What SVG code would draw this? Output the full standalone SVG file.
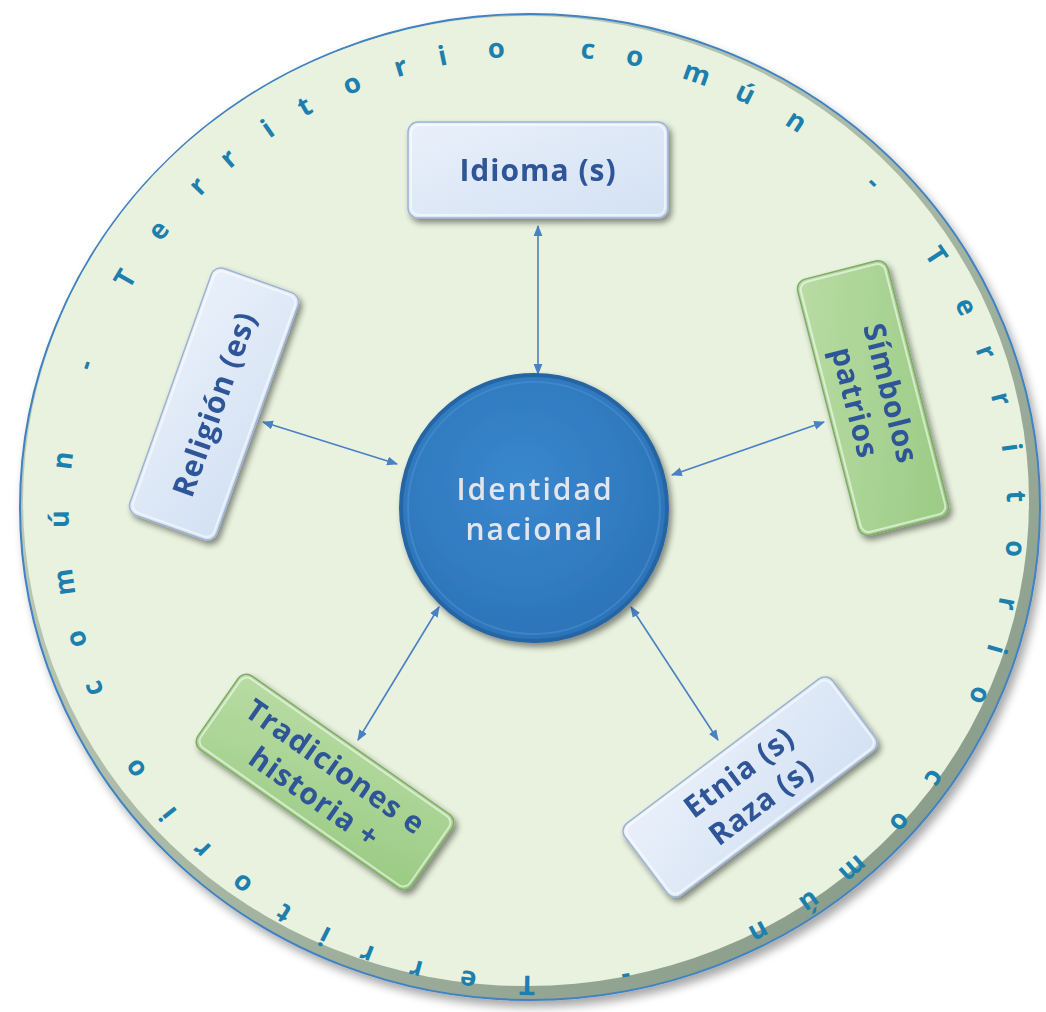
<svg xmlns="http://www.w3.org/2000/svg" width="1046" height="1012" viewBox="0 0 1046 1012">
  <style>
    .ring { font-family: "Open Sans", "Liberation Sans", sans-serif; font-weight: 700; font-size: 27px; fill: #1c7fae; text-anchor: middle; }
    .lbl { font-family: "Open Sans", "Liberation Sans", sans-serif; font-weight: 700; font-size: 30px; fill: #2f5597; text-anchor: middle; letter-spacing: 1px; }
    .core { font-family: "Open Sans", "Liberation Sans", sans-serif; font-weight: 600; font-size: 30px; fill: #e2e6ec; text-anchor: middle; letter-spacing: 2px; }
    .conn { stroke: #4a80c4; stroke-width: 1.6; fill: none; marker-start: url(#arr); marker-end: url(#arr); }
    .blue { fill: url(#gBlue); stroke: #9db3d3; stroke-width: 1.5; }
    .green { fill: url(#gGreen); stroke: #7eac66; stroke-width: 1.5; }
    .hl { fill: none; stroke: #ffffff; stroke-opacity: 0.55; stroke-width: 2; }
  </style>
  <defs>
    <linearGradient id="gBlue" x1="0" y1="0" x2="1" y2="1">
      <stop offset="0" stop-color="#e9f0fa"/>
      <stop offset="1" stop-color="#d3e1f3"/>
    </linearGradient>
    <linearGradient id="gGreen" x1="0" y1="0" x2="1" y2="1">
      <stop offset="0" stop-color="#b9dca4"/>
      <stop offset="1" stop-color="#9acb84"/>
    </linearGradient>
    <radialGradient id="gCore" cx="0.45" cy="0.4" r="0.6">
      <stop offset="0" stop-color="#3a87cd"/>
      <stop offset="1" stop-color="#2c74ba"/>
    </radialGradient>
    <linearGradient id="gRim" x1="0" y1="0" x2="1" y2="1">
      <stop offset="0" stop-color="#c9d9c8"/>
      <stop offset="0.5" stop-color="#a9b9a6"/>
      <stop offset="1" stop-color="#7f9381"/>
    </linearGradient>
    <filter id="sh" x="-20%" y="-20%" width="140%" height="140%">
      <feGaussianBlur in="SourceAlpha" stdDeviation="3"/>
      <feOffset dx="3" dy="4" result="o"/>
      <feComponentTransfer><feFuncA type="linear" slope="0.45"/></feComponentTransfer>
      <feMerge><feMergeNode/><feMergeNode in="SourceGraphic"/></feMerge>
    </filter>
    <filter id="shBig" x="-10%" y="-10%" width="120%" height="120%">
      <feGaussianBlur in="SourceAlpha" stdDeviation="5"/>
      <feOffset dx="4" dy="6"/>
      <feComponentTransfer><feFuncA type="linear" slope="0.35"/></feComponentTransfer>
      <feMerge><feMergeNode/><feMergeNode in="SourceGraphic"/></feMerge>
    </filter>
    <marker id="arr" viewBox="0 0 10 10" refX="9" refY="5" markerWidth="11" markerHeight="11" markerUnits="userSpaceOnUse" orient="auto-start-reverse">
      <path d="M0,1 L10,5 L0,9 Z" fill="#4a80c4"/>
    </marker>
  </defs>

  <rect width="1046" height="1012" fill="#ffffff"/>

  <!-- outer disc: bevelled rim and pale green face -->
  <g id="territorio" filter="url(#shBig)">
    <ellipse cx="530" cy="507" rx="510" ry="493" fill="url(#gRim)" stroke="#3f82c2" stroke-width="2"/>
    <ellipse cx="526" cy="501" rx="503" ry="485" fill="#e9f2de"/>
  </g>

  <!-- lettering around the disc (slightly widened ring) -->
  <g id="ring-text" class="ring" transform="translate(538 516) scale(1.02 1) translate(-538 -516)">
    <text x="538" y="56" transform="rotate(181.3 538 516)">T</text>
    <text x="538" y="56" transform="rotate(188.4 538 516)">e</text>
    <text x="538" y="56" transform="rotate(194.8 538 516)">r</text>
    <text x="538" y="56" transform="rotate(201.0 538 516)">r</text>
    <text x="538" y="56" transform="rotate(206.5 538 516)">i</text>
    <text x="538" y="56" transform="rotate(212.1 538 516)">t</text>
    <text x="538" y="56" transform="rotate(218.3 538 516)">o</text>
    <text x="538" y="56" transform="rotate(224.7 538 516)">r</text>
    <text x="538" y="56" transform="rotate(230.6 538 516)">i</text>
    <text x="538" y="56" transform="rotate(237.4 538 516)">o</text>
    <text x="538" y="56" transform="rotate(248.4 538 516)">c</text>
    <text x="538" y="56" transform="rotate(254.8 538 516)">o</text>
    <text x="538" y="56" transform="rotate(261.9 538 516)">m</text>
    <text x="538" y="56" transform="rotate(269.6 538 516)">ú</text>
    <text x="538" y="56" transform="rotate(276.8 538 516)">n</text>
    <text x="538" y="56" transform="rotate(288.8 538 516)">-</text>

    <text x="538" y="56" transform="rotate(300.4 538 516)">T</text>
    <text x="538" y="56" transform="rotate(307.5 538 516)">e</text>
    <text x="538" y="56" transform="rotate(314.7 538 516)">r</text>
    <text x="538" y="56" transform="rotate(319.7 538 516)">r</text>
    <text x="538" y="56" transform="rotate(325.6 538 516)">i</text>
    <text x="538" y="56" transform="rotate(330.8 538 516)">t</text>
    <text x="538" y="56" transform="rotate(337.1 538 516)">o</text>
    <text x="538" y="56" transform="rotate(343.3 538 516)">r</text>
    <text x="538" y="56" transform="rotate(348.5 538 516)">i</text>
    <text x="538" y="56" transform="rotate(355.0 538 516)">o</text>
    <text x="538" y="56" transform="rotate(6.0 538 516)">c</text>
    <text x="538" y="56" transform="rotate(11.7 538 516)">o</text>
    <text x="538" y="56" transform="rotate(19.4 538 516)">m</text>
    <text x="538" y="56" transform="rotate(25.7 538 516)">ú</text>
    <text x="538" y="56" transform="rotate(32.7 538 516)">n</text>
    <text x="538" y="56" transform="rotate(44.6 538 516)">-</text>

    <text x="538" y="56" transform="rotate(56.3 538 516)">T</text>
    <text x="538" y="56" transform="rotate(63.5 538 516)">e</text>
    <text x="538" y="56" transform="rotate(69.5 538 516)">r</text>
    <text x="538" y="56" transform="rotate(75.5 538 516)">r</text>
    <text x="538" y="56" transform="rotate(81.6 538 516)">i</text>
    <text x="538" y="56" transform="rotate(87.6 538 516)">t</text>
    <text x="538" y="56" transform="rotate(94.0 538 516)">o</text>
    <text x="538" y="56" transform="rotate(100.8 538 516)">r</text>
    <text x="538" y="56" transform="rotate(106.5 538 516)">i</text>
    <text x="538" y="56" transform="rotate(112.5 538 516)">o</text>
    <text x="538" y="56" transform="rotate(124.0 538 516)">c</text>
    <text x="538" y="56" transform="rotate(130.8 538 516)">o</text>
    <text x="538" y="56" transform="rotate(138.8 538 516)">m</text>
    <text x="538" y="56" transform="rotate(145.4 538 516)">ú</text>
    <text x="538" y="56" transform="rotate(152.5 538 516)">n</text>
    <text x="538" y="56" transform="rotate(169.4 538 516)">-</text>
  </g>

  <!-- two-headed connectors from the hub to each box -->
  <g id="connectors">
    <line class="conn" x1="538" y1="226" x2="538" y2="374"/>
    <line class="conn" x1="263" y1="422" x2="397" y2="464"/>
    <line class="conn" x1="824" y1="422" x2="672" y2="475"/>
    <line class="conn" x1="439" y1="607" x2="358" y2="740"/>
    <line class="conn" x1="631" y1="607" x2="718" y2="740"/>
  </g>

  <g id="identidad" filter="url(#sh)">
    <circle cx="534" cy="508" r="133" fill="url(#gCore)" stroke="#2765a4" stroke-width="4"/>
    <circle cx="534" cy="508" r="126" fill="none" stroke="#5596d6" stroke-opacity="0.45" stroke-width="2"/>
    <text class="core" x="535" y="500">Identidad</text>
    <text class="core" x="535" y="540">nacional</text>
  </g>

  <g id="idioma" filter="url(#sh)">
    <g transform="translate(538 170)">
      <rect class="blue" x="-130" y="-48" width="260" height="96" rx="10"/>
      <rect class="hl" x="-127" y="-45" width="254" height="90" rx="8"/>
      <text class="lbl" x="0" y="11">Idioma (s)</text>
    </g>
  </g>

  <g id="religion" filter="url(#sh)">
    <g transform="translate(214 404) rotate(19.6)">
      <rect class="blue" x="-46" y="-131" width="92" height="262" rx="10"/>
      <rect class="hl" x="-43" y="-128" width="86" height="256" rx="8"/>
      <text class="lbl" x="0" y="11" transform="rotate(-90)">Religión (es)</text>
    </g>
  </g>

  <g id="simbolos" filter="url(#sh)">
    <g transform="translate(873 398) rotate(-14.3)">
      <rect class="green" x="-46.5" y="-132" width="93" height="264" rx="10"/>
      <rect class="hl" x="-43.5" y="-129" width="87" height="258" rx="8"/>
      <g transform="rotate(90)">
        <text class="lbl" x="0" y="-8">Símbolos</text>
        <text class="lbl" x="0" y="29">patrios</text>
      </g>
    </g>
  </g>

  <g id="tradiciones" filter="url(#sh)">
    <g transform="translate(325 782) rotate(35)">
      <rect class="green" x="-130.5" y="-45" width="261" height="90" rx="10"/>
      <rect class="hl" x="-127.5" y="-42" width="255" height="84" rx="8"/>
      <text class="lbl" x="0" y="-8">Tradiciones e</text>
      <text class="lbl" x="0" y="29">historia +</text>
    </g>
  </g>

  <g id="etnia" filter="url(#sh)">
    <g transform="translate(750 787) rotate(-36.9)">
      <rect class="blue" x="-130" y="-45" width="260" height="90" rx="10"/>
      <rect class="hl" x="-127" y="-42" width="254" height="84" rx="8"/>
      <text class="lbl" x="0" y="-8">Etnia (s)</text>
      <text class="lbl" x="0" y="29">Raza (s)</text>
    </g>
  </g>
</svg>
